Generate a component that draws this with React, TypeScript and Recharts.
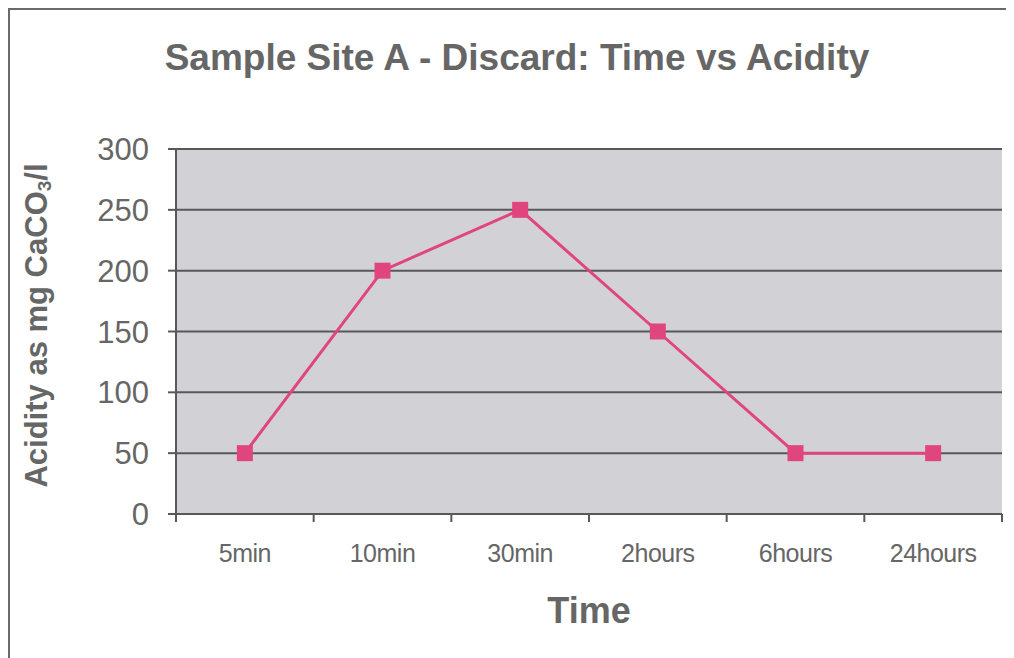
import React from 'react';
import { LineChart, Line, XAxis, YAxis, CartesianGrid } from 'recharts';

const categories = ['5min', '10min', '30min', '2hours', '6hours', '24hours'];
const acidity = [50, 200, 250, 150, 50, 50];
const yTicks = [0, 50, 100, 150, 200, 250, 300];

const data = categories.map((time, i) => ({ time, acidity: acidity[i] }));

const FONT = 'Arial, "Liberation Sans", sans-serif';
const TEXT = '#666666';
const PINK = '#E0457E';
const DARK = '#585858';

const SquareDot = (props: any) => {
  const { cx, cy } = props;
  if (cx == null || cy == null) return null;
  return <rect x={cx - 8} y={cy - 8} width={16} height={16} fill={PINK} />;
};

const CatTick = (props: any) => {
  const { x, y, payload, index } = props;
  const half = payload && payload.offset != null ? payload.offset : 0;
  const isLast = index === categories.length - 1;
  return (
    <g>
      <line x1={x - half} x2={x - half} y1={y} y2={y + 8} stroke={DARK} strokeWidth={2} />
      {isLast && (
        <line x1={x + half} x2={x + half} y1={y} y2={y + 8} stroke={DARK} strokeWidth={2} />
      )}
      <text
        x={x}
        y={y + 30}
        dy="0.71em"
        textAnchor="middle"
        fill={TEXT}
        fontFamily={FONT}
        fontSize={25}
        letterSpacing={-0.5}
      >
        {payload.value}
      </text>
    </g>
  );
};

const YLabel = (props: any) => {
  const vb = props.viewBox || {};
  const cx = 26;
  const cy = vb.y + vb.height / 2 - 6;
  return (
    <text
      x={cx}
      y={cy}
      transform={`rotate(-90, ${cx}, ${cy})`}
      textAnchor="middle"
      dominantBaseline="central"
      fill={TEXT}
      fontFamily={FONT}
      fontWeight="bold"
      fontSize={31}
    >
      Acidity as mg CaCO
      <tspan fontSize={19} dy={8}>3</tspan>
      <tspan dy={-8}>/l</tspan>
    </text>
  );
};

const XLabel = (props: any) => {
  const vb = props.viewBox || {};
  const cx = vb.x + vb.width / 2;
  return (
    <text
      x={cx}
      y={vb.y + 109}
      textAnchor="middle"
      fill={TEXT}
      fontFamily={FONT}
      fontWeight="bold"
      fontSize={36}
    >
      Time
    </text>
  );
};

export default function App() {
  return (
    <div
      style={{
        position: 'relative',
        width: 1006,
        height: 650,
        boxSizing: 'border-box',
        borderLeft: '2px solid #6a6a6a',
        borderTop: '2px solid #6a6a6a',
        background: '#ffffff',
      }}
    >
      <div
        style={{
          position: 'absolute',
          left: 0,
          top: 28,
          width: 1014,
          textAlign: 'center',
          fontFamily: FONT,
          fontWeight: 'bold',
          fontSize: 37,
          color: TEXT,
          lineHeight: '40px',
        }}
      >
        Sample Site A - Discard: Time vs Acidity
      </div>
      <LineChart
        width={1004}
        height={648}
        data={data}
        margin={{ top: 139, right: 12, bottom: 0, left: 0 }}
      >
        <CartesianGrid
          vertical={false}
          horizontal={true}
          fill="#d2d2d6"
          fillOpacity={1}
          stroke={DARK}
          strokeWidth={2}
        />
        <XAxis
          dataKey="time"
          scale="band"
          height={144}
          axisLine={{ stroke: DARK, strokeWidth: 2 }}
          tickLine={false}
          tickSize={0}
          tickMargin={0}
          interval={0}
          tick={<CatTick />}
          label={<XLabel />}
        />
        <YAxis
          width={166}
          domain={[0, 300]}
          ticks={yTicks}
          interval={0}
          tickSize={8}
          tickMargin={19}
          axisLine={{ stroke: DARK, strokeWidth: 2 }}
          tickLine={{ stroke: DARK, strokeWidth: 2 }}
          tick={{ fill: TEXT, fontFamily: FONT, fontSize: 31 }}
          label={<YLabel />}
        />
        <Line
          type="linear"
          dataKey="acidity"
          stroke={PINK}
          strokeWidth={3}
          dot={<SquareDot />}
          activeDot={false}
          isAnimationActive={false}
        />
      </LineChart>
    </div>
  );
}
